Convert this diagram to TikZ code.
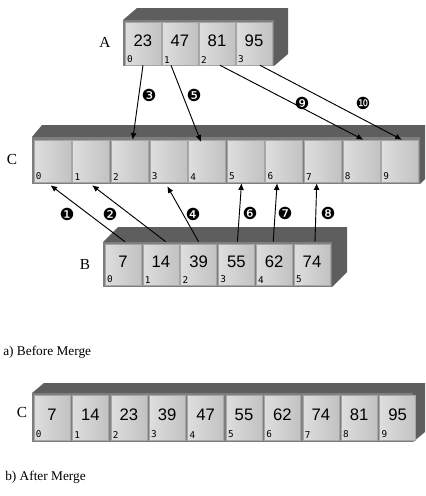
\documentclass[tikz,border=0pt]{standalone}
\usepackage{fontspec}
\setmainfont{Liberation Serif}
\newfontfamily\numfont{Liberation Sans}
\newfontfamily\idxfont{DejaVu Sans Mono}
\newfontfamily\dingfont{DejaVu Sans}
\usetikzlibrary{arrows.meta, calc}

\definecolor{boxtop}{HTML}{5E5E5E}
\definecolor{boxframe}{HTML}{7E7E7E}
\definecolor{celllight}{HTML}{DEDEDE}
\definecolor{celldark}{HTML}{C2C2C2}

\begin{document}
\begin{tikzpicture}[
			x=0.75pt, y=-0.75pt,
			cell/.style={rectangle, draw=black!35, line width=0.4pt, left color=celllight, right color=celldark, minimum width=27pt, inner sep=0pt, font=\numfont\fontsize{12.5}{12.5}\selectfont, text height=9pt, text depth=4pt},
			idx/.style={anchor=south west, inner sep=1.5pt, font=\idxfont\fontsize{7}{7}\selectfont},
			arrname/.style={font=\fontsize{11.5}{11.5}\selectfont, inner sep=0pt},
			step num/.style={font=\dingfont\fontsize{12.5}{12.5}\selectfont, inner sep=0pt},
			caption/.style={anchor=west, font=\fontsize{10}{10}\selectfont, inner sep=0pt},
			arrow/.style={-{Latex[length=5pt,width=4.5pt]}, line width=0.7pt, black}
			]
			
			\clip (0,0) rectangle (425,496);
			
			% Array A
			\fill[boxtop] (123,20) -- (137,8) -- (288,8) -- (288,54) -- (274,66) -- cycle;
			\fill[boxframe] (123,20) rectangle (274,66);
			\foreach \v [count=\i from 0] in {23,47,81,95} {
				\node[cell, minimum height=32.25pt] (a\i) at ({143+37*\i},43.5) {\v};
				\node[idx] (ai\i) at (a\i.south west) {\i};
			}
			\node[arrname] (lA) at (105,42) {A};
			
			% Array C before merge
			\fill[boxtop] (32,137) -- (42,125) -- (432,125) -- (432,172) -- (420,184) -- cycle;
			\fill[boxframe] (32,137) rectangle (420,184);
			\foreach \i in {0,...,9} {
				\node[cell, minimum width=27.75pt, minimum height=31.5pt] (c\i) at ({52.5+38.6*\i},161) {};
				\node[idx] (ci\i) at (c\i.south west) {\i};
			}
			\node[arrname] (lC) at (12,159) {C};
			
			% Array B
			\fill[boxtop] (103,242) -- (118,227) -- (347,227) -- (347,272) -- (332,287) -- cycle;
			\fill[boxframe] (103,242) rectangle (332,287);
			\foreach \v [count=\i from 0] in {7,14,39,55,62,74} {
				\node[cell, minimum height=30.75pt] (b\i) at ({123+37.8*\i},264.5) {\v};
				\node[idx] (bi\i) at (b\i.south west) {\i};
			}
			\node[arrname] (lB) at (85,264) {B};
			
			% Arrows from A into C
			\draw[arrow] (a0.south) -- ([shift={(3,0)}]c2.north);
			\draw[arrow] ([shift={(-9,0)}]a1.south) -- ([shift={(-6,2)}]c4.north);
			\draw[arrow] ([shift={(3,0)}]a2.south) -- ([shift={(2,0)}]c8.north);
			\draw[arrow] ([shift={(6,0)}]a3.south) -- ([shift={(2,0)}]c9.north);
			
			% Arrows from B into C
			\draw[arrow] ([shift={(2,-2)}]b0.north) -- ([shift={(-2,3)}]c0.south);
			\draw[arrow] ([shift={(5,-2)}]b1.north) -- ([shift={(1,3)}]c1.south);
			\draw[arrow] ([shift={(0,-2)}]b2.north) -- ([shift={(-1,4)}]c3.south);
			\draw[arrow] ([shift={(1,-2)}]b3.north) -- ([shift={(-4,1)}]c5.south);
			\draw[arrow] ([shift={(-1,-2)}]b4.north) -- ([shift={(-7,1)}]c6.south);
			\draw[arrow] ([shift={(3,-2)}]b5.north) -- ([shift={(-6,1)}]c7.south);
			
			% Step numbers
			\node[step num] (s1) at (67,214) {❶};
			\node[step num] (s2) at (110,214) {❷};
			\node[step num] (s3) at (149,95) {❸};
			\node[step num] (s4) at (193,214) {❹};
			\node[step num] (s5) at (194,95) {❺};
			\node[step num] (s6) at (250,213) {❻};
			\node[step num] (s7) at (285,213) {❼};
			\node[step num] (s8) at (328,213) {❽};
			\node[step num] (s9) at (302,103) {❾};
			\node[step num] (s10) at (363,103) {❿};
			
			\node[caption] (capa) at (3,352) {a) Before Merge};
			
			% Array C after merge
			\fill[boxtop] (32,393) -- (44,383) -- (425,383) -- (425,432) -- (413,442) -- cycle;
			\fill[boxframe] (32,393) rectangle (413,442);
			\foreach \v [count=\i from 0] in {7,14,23,39,47,55,62,74,81,95} {
				\node[cell, minimum height=33.75pt] (m\i) at ({52+38.4*\i},417.5) {\v};
				\node[idx] (mi\i) at (m\i.south west) {\i};
			}
			\node[arrname] (lM) at (22,412) {C};
			
			\node[caption] (capb) at (5,477) {b) After Merge};
			
		\end{tikzpicture}
\end{document}
